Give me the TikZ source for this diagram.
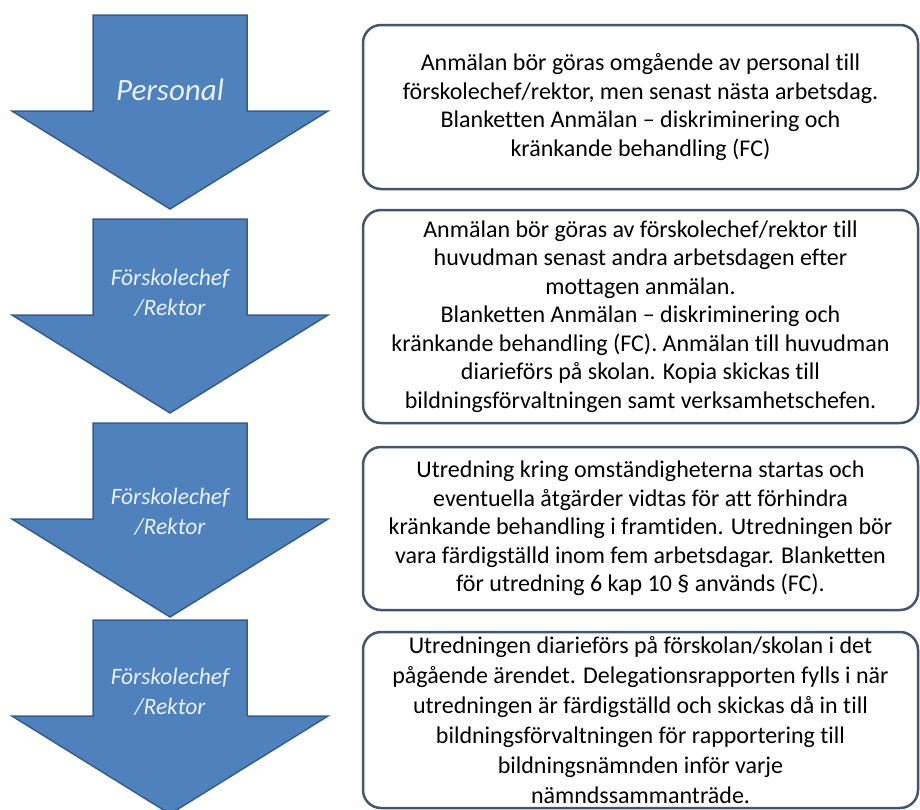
\documentclass[tikz,border=0pt]{standalone}
\usepackage{fontspec}
\setmainfont{Carlito}[Ligatures=NoCommon]
\usetikzlibrary{positioning}
\definecolor{arrowfill}{RGB}{79,129,189}
\definecolor{arrowline}{RGB}{56,93,138}
\definecolor{boxline}{RGB}{68,86,108}
\definecolor{labeltext}{RGB}{232,240,250}

\begin{document}
\begin{tikzpicture}[x=1pt, y=-1pt, node distance=22pt,
    flow/.style={fill=arrowfill, draw=arrowline, line width=1.5pt},
    who/.style={text=labeltext, align=center,
      font=\fontsize{23.5}{30}\selectfont\itshape},
    info/.style={draw=boxline, line width=2.5pt, rounded corners=18pt,
      minimum width=555pt, inner sep=2pt, outer sep=0pt, align=center,
      font=\fontsize{24}{28.5}\selectfont},
  ]
  \clip (0,0) rectangle (920,809);

  % the four arrows on the left
  \foreach \top in {15,219,423,620}
    \draw[flow] (93,\top) -- (247,\top) -- (247,\top+96) -- (328,\top+96)
      -- (170,\top+194) -- (12,\top+96) -- (93,\top+96) -- cycle;

  \node[who, font=\fontsize{31}{36}\selectfont\itshape] (a1) at (170,90) {Personal};
  \node[who] (a2) at (170,293) {Förskolechef\\/Rektor};
  \node[who] (a3) at (170,512) {Förskolechef\\/Rektor};
  \node[who] (a4) at (170,692) {Förskolechef\\/Rektor};

  % the boxes on the right
  \node[info, minimum height=164pt, anchor=north west] (t1) at (363,25)
    {Anmälan bör göras omgående av personal till\\
     förskolechef/rektor, men senast nästa arbetsdag.\\
     Blanketten Anmälan – diskriminering och\\
     kränkande behandling (FC)};
  \node[info, minimum height=213pt, below=21pt of t1] (t2)
    {Anmälan bör göras av förskolechef/rektor till\\
     huvudman senast andra arbetsdagen efter\\
     mottagen anmälan.\\
     Blanketten Anmälan – diskriminering och\\
     kränkande behandling (FC). Anmälan till huvudman\\
     diarieförs på skolan. Kopia skickas till\\
     bildningsförvaltningen samt verksamhetschefen.};
  \node[info, minimum height=163pt, below=24pt of t2] (t3)
    {Utredning kring omständigheterna startas och\\
     eventuella åtgärder vidtas för att förhindra\\
     kränkande behandling i framtiden. Utredningen bör\\
     vara färdigställd inom fem arbetsdagar. Blanketten\\
     för utredning 6 kap 10 § används (FC).};
  \node[info, minimum height=176pt, below=22pt of t3, inner ysep=0pt,
    font=\fontsize{24}{30}\selectfont] (t4)
    {Utredningen diarieförs på förskolan/skolan i det\\
     pågående ärendet. Delegationsrapporten fylls i när\\
     utredningen är färdigställd och skickas då in till\\
     bildningsförvaltningen för rapportering till\\
     bildningsnämnden inför varje\\
     nämndssammanträde.};
\end{tikzpicture}
\end{document}
